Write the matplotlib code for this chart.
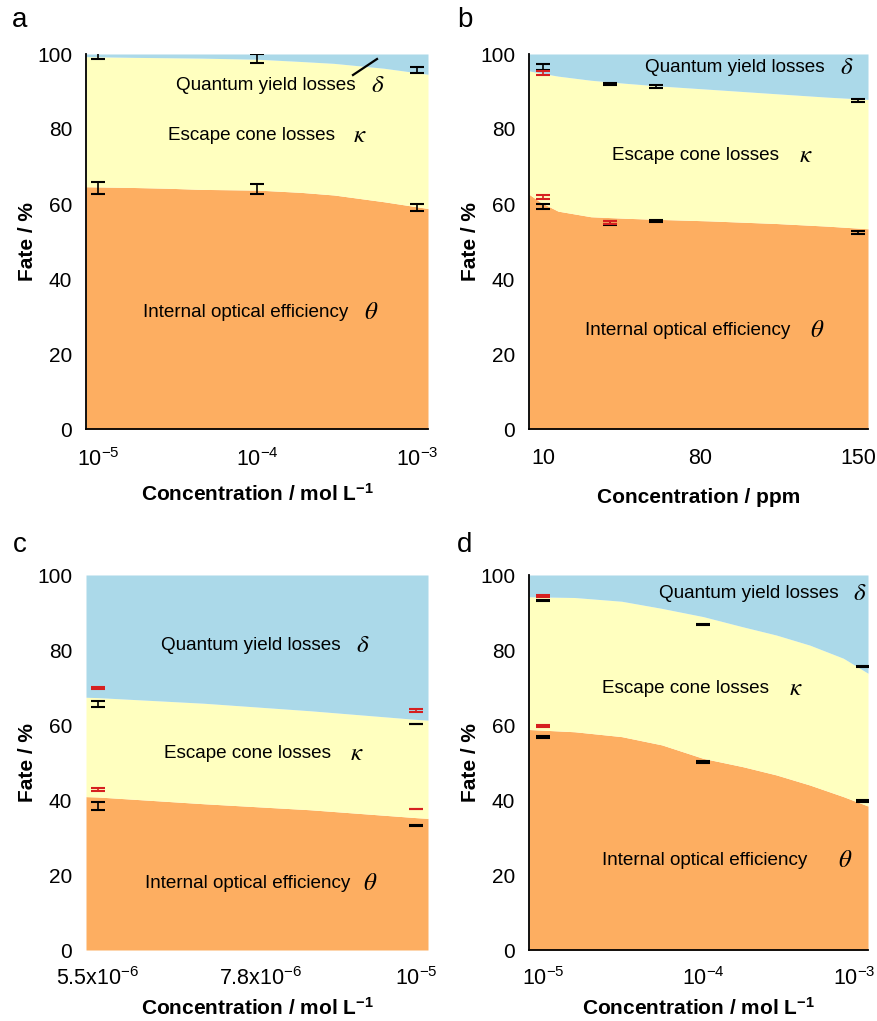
import numpy as np
import matplotlib
matplotlib.use("Agg")
import matplotlib.pyplot as plt
import matplotlib.transforms as mtransforms

plt.rcParams["font.family"] = ["Liberation Sans", "DejaVu Sans"]
plt.rcParams["mathtext.fontset"] = "custom"
plt.rcParams["mathtext.rm"] = "Liberation Sans"
plt.rcParams["mathtext.it"] = "Liberation Sans:italic"
plt.rcParams["mathtext.bf"] = "Liberation Sans:bold"

c_orange = "#FDAE61"
c_yellow = "#FFFFBF"
c_blue = "#ABD9E9"
c_red = "#D62020"

# ---- panel a (mol/L, log axis) ----
a_x = [10 ** v for v in [-5.075, -4.774, -4.561, -4.354, -3.997, -3.727, -3.520, -3.207, -2.931]]
a_theta = [64.6, 64.4, 64.2, 63.9, 63.7, 63.1, 62.4, 60.6, 58.8]
a_top = [99.3, 99.1, 99.0, 98.9, 98.6, 98.0, 97.5, 96.2, 94.6]
a_pts = [1e-5, 1e-4, 1e-3]
a_err_top = [100.5, 98.8, 95.8]
a_err_top_e = [1.9, 1.2, 0.8]
a_err_low = [64.3, 64.0, 59.0]
a_err_low_e = [1.6, 1.3, 1.0]

# ---- panel b (ppm) ----
b_x = [3.8, 9.1, 16.7, 31.3, 46.4, 61.1, 83.8, 113.6, 136.2, 154.4]
b_theta = [62.6, 60.4, 58.1, 56.6, 56.2, 55.9, 55.5, 54.8, 54.1, 53.4]
b_top = [95.5, 94.9, 94.1, 93.0, 92.2, 91.5, 90.6, 89.4, 88.5, 87.9]
b_pts = [10, 40, 60, 150]
b_err_top = [96.5, 91.9, 91.3, 87.5]
b_err_top_e = [0.8, 0.3, 0.4, 0.4]
b_err_low = [59.3, 54.9, 55.4, 52.4]
b_err_low_e = [0.6, 0.5, 0.3, 0.4]
b_red_pts = [10, 10, 40]
b_red = [95.0, 61.9, 55.0]
b_red_e = [0.5, 0.5, 0.4]

# ---- panel c (x in units of 1e-6 mol/L) ----
c_x = [5.33, 5.5, 7.0, 8.5, 10.0, 10.17]
c_theta = [40.9, 40.8, 39.0, 37.4, 35.3, 35.1]
c_top = [67.4, 67.3, 65.8, 63.8, 61.5, 61.3]
c_pts = [5.5, 10.0]
c_err_top = [65.6, 60.3]
c_err_top_e = [0.8, 0.1]
c_err_low = [38.4, 33.2]
c_err_low_e = [1.0, 0.1]
c_red_top = [69.9, 63.9]
c_red_top_e = [0.2, 0.3]
c_red_low = [42.8, 37.6]
c_red_low_e = [0.4, 0.1]

# ---- panel d (mol/L, log axis) ----
d_x = [10 ** v for v in [-5.088, -4.803, -4.509, -4.258, -3.999, -3.753, -3.543, -3.333, -3.123, -2.969]]
d_theta = [58.8, 58.2, 56.9, 54.7, 51.1, 48.9, 46.7, 44.0, 40.9, 38.4]
d_top = [94.2, 94.0, 93.0, 91.1, 88.9, 86.2, 84.0, 81.3, 77.8, 73.8]
d_pts = [1e-5, 1e-4, 1e-3]
d_err_top = [93.2, 86.8, 75.6]
d_err_low = [56.9, 50.2, 39.8]
d_red_pts = [1e-5, 1e-5]
d_red = [94.4, 59.7]

W, H = 877, 1021
fig = plt.figure(figsize=(W / 100, H / 100), dpi=100)


def make_ax(box):
    x0, x1, ytop, ybot = box
    ax = fig.add_axes([x0 / W, 1 - ybot / H, (x1 - x0) / W, (ybot - ytop) / H])
    ax.box = box
    return ax


def frac(ax, px, py):
    x0, x1, ytop, ybot = ax.box
    return (px - x0) / (x1 - x0), (ybot - py) / (ybot - ytop)


def stack(ax, x, theta, top):
    ax.fill_between(x, 0, theta, color=c_orange, lw=0)
    ax.fill_between(x, theta, top, color=c_yellow, lw=0)
    ax.fill_between(x, top, 100, color=c_blue, lw=0)
    ax.set_xlim(x[0], x[-1])
    ax.set_ylim(0, 100)


def errs(ax, x, y, e, color="black"):
    ax.errorbar(x, y, yerr=e, fmt="none", ecolor=color, elinewidth=1.2,
                capsize=5, capthick=1.5, zorder=5)


def style(ax, spines=True):
    for s in ["top", "right"]:
        ax.spines[s].set_visible(False)
    for s in ["left", "bottom"]:
        ax.spines[s].set_visible(spines)
        ax.spines[s].set_linewidth(1.3)
    ax.set_yticks([0, 20, 40, 60, 80, 100])
    ax.tick_params(axis="y", length=0, pad=10, labelsize=15)
    ax.tick_params(axis="x", length=0, pad=14, labelsize=15.5)
    ax.set_ylabel("Fate / %", fontsize=15, fontweight="bold", labelpad=0)
    ax.minorticks_off()


def label(ax, px, py, text, greek, gx):
    ax.text(*frac(ax, px, py), text, fontsize=13.6, ha="center", va="center",
            transform=ax.transAxes)
    ax.text(*frac(ax, gx, py), "$\\" + greek + "$", fontsize=18, ha="center",
            va="center", math_fontfamily="stix", transform=ax.transAxes)


def xlab(ax, text, pad):
    ax.set_xlabel(text, fontsize=15, fontweight="bold", labelpad=pad)


log_ticks = [1e-5, 1e-4, 1e-3]
log_labels = ["10$^{-5}$", "10$^{-4}$", "10$^{-3}$"]
mol_label = "Concentration / mol L$^{\\mathbf{-1}}$"

# panel a
ax = make_ax((86, 428, 54, 429))
ax.set_xscale("log")
stack(ax, a_x, a_theta, a_top)
errs(ax, a_pts, a_err_top, a_err_top_e)
errs(ax, a_pts, a_err_low, a_err_low_e)
ax.set_xticks(log_ticks, log_labels)
style(ax)
xlab(ax, mol_label, 8)
p0, p1 = frac(ax, 353, 75), frac(ax, 377, 59)
ax.plot([p0[0], p1[0]], [p0[1], p1[1]], color="black", lw=1.6,
        transform=ax.transAxes)
label(ax, 266, 85, "Quantum yield losses", "delta", 378)
label(ax, 251, 135, "Escape cone losses", "kappa", 360)
label(ax, 246, 312, "Internal optical efficiency", "theta", 371)

# panel b
ax = make_ax((529, 868, 54, 429))
stack(ax, b_x, b_theta, b_top)
errs(ax, b_pts, b_err_top, b_err_top_e)
errs(ax, b_pts, b_err_low, b_err_low_e)
errs(ax, b_red_pts, b_red, b_red_e, color=c_red)
ax.set_xticks([10, 80, 150], ["10", "80", "150"])
style(ax)
xlab(ax, "Concentration / ppm", 13)
label(ax, 735, 67, "Quantum yield losses", "delta", 847)
label(ax, 696, 155, "Escape cone losses", "kappa", 806)
label(ax, 688, 330, "Internal optical efficiency", "theta", 817)

# panel c
ax = make_ax((86, 428, 575, 950))
stack(ax, c_x, c_theta, c_top)
errs(ax, c_pts, c_err_top, c_err_top_e)
errs(ax, c_pts, c_err_low, c_err_low_e)
errs(ax, c_pts, c_red_top, c_red_top_e, color=c_red)
errs(ax, c_pts, c_red_low, c_red_low_e, color=c_red)
ax.set_xticks([5.5, 7.8, 10.0], ["5.5x10$^{-6}$", "7.8x10$^{-6}$", "10$^{-5}$"])
style(ax, spines=False)
ax.tick_params(axis="x", pad=12)
xlab(ax, mol_label, 5)
label(ax, 251, 645, "Quantum yield losses", "delta", 363)
label(ax, 248, 753, "Escape cone losses", "kappa", 357)
label(ax, 248, 883, "Internal optical efficiency", "theta", 370)

# panel d
ax = make_ax((529, 868, 575, 950))
ax.set_xscale("log")
stack(ax, d_x, d_theta, d_top)
errs(ax, d_pts, d_err_top, 0.25)
errs(ax, d_pts, d_err_low, 0.25)
errs(ax, d_red_pts, d_red, 0.25, color=c_red)
ax.set_xticks(log_ticks, log_labels)
style(ax)
ax.tick_params(axis="x", pad=12)
xlab(ax, mol_label, 5)
# keep the last tick label inside the figure edge
last = ax.get_xticklabels()[-1]
last.set_transform(last.get_transform() +
                   mtransforms.ScaledTranslation(-9 / 100, 0, fig.dpi_scale_trans))
label(ax, 749, 593, "Quantum yield losses", "delta", 860)
label(ax, 686, 688, "Escape cone losses", "kappa", 796)
label(ax, 705, 860, "Internal optical efficiency", "theta", 845)

for lt, xx, yy in [("a", 20, 20), ("b", 465, 20), ("c", 20, 545), ("d", 465, 545)]:
    fig.text(xx / W, 1 - yy / H, lt, fontsize=20, ha="center", va="center")

fig.savefig("out.png", dpi=100)
